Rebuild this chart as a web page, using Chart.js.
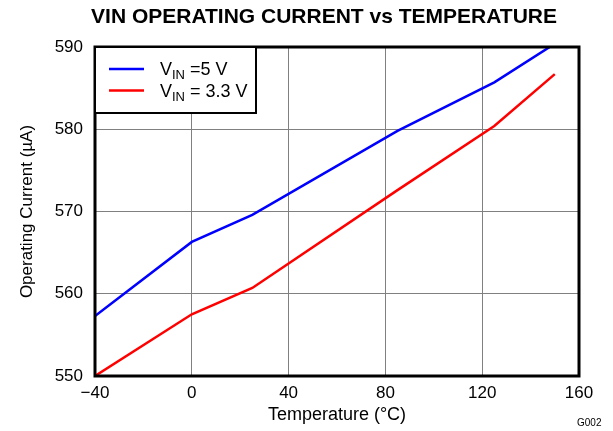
<!DOCTYPE html>
<html>
<head>
<meta charset="utf-8">
<script src="https://cdn.jsdelivr.net/npm/chart.js@4"></script>
<style>
  html, body { margin: 0; padding: 0; background: #fff; }
  #wrap { width: 613px; height: 431px; }
</style>
</head>
<body>
<div id="wrap"><canvas id="myChart" width="613" height="431"></canvas></div>
<script>
const myChart = document.getElementById("myChart");

// temperature points (°C)
const temp5V = [-40, 0, 25, 85, 125, 150];
const current5V = [557.3, 566.3, 569.6, 579.8, 585.7, 590.4];
const temp33V = [-40, 0, 25, 85, 125, 150];
const current33V = [550.0, 557.5, 560.7, 572.6, 580.4, 586.7];

const xTicks = [-40, 0, 40, 80, 120, 160];
const yTicks = [550, 560, 570, 580, 590];

const legendItems = [
  { sub: "IN", text: " =5 V", color: "#0000ff" },
  { sub: "IN", text: " = 3.3 V", color: "#ff0000" },
];

const FONT = "Arial, 'Liberation Sans', sans-serif";

const toPoints = (xs, ys) => xs.map((x, i) => ({ x: x, y: ys[i] }));

// title, legend box, frame and the little G002 label
const extras = {
  id: "extras",
  afterDraw(chart) {
    const ctx = chart.ctx;
    const a = chart.chartArea;
    ctx.save();

    // frame
    ctx.strokeStyle = "#000";
    ctx.lineWidth = 3;
    ctx.strokeRect(a.left, a.top, a.right - a.left, a.bottom - a.top);

    // title
    ctx.fillStyle = "#000";
    ctx.font = "bold 21px " + FONT;
    ctx.textAlign = "center";
    ctx.textBaseline = "middle";
    ctx.fillText("VIN OPERATING CURRENT vs TEMPERATURE", 324, 17);

    // legend
    ctx.fillStyle = "#fff";
    ctx.fillRect(a.left, a.top, 161, 66);
    ctx.strokeStyle = "#000";
    ctx.lineWidth = 2;
    ctx.strokeRect(a.left, a.top, 161, 66);
    legendItems.forEach((it, i) => {
      const y = 69 + i * 21.5;
      ctx.strokeStyle = it.color;
      ctx.lineWidth = 2.5;
      ctx.beginPath();
      ctx.moveTo(109, y);
      ctx.lineTo(144, y);
      ctx.stroke();
      ctx.fillStyle = "#000";
      ctx.textAlign = "left";
      ctx.textBaseline = "alphabetic";
      let x = 160;
      ctx.font = "18px " + FONT;
      ctx.fillText("V", x, y + 6);
      x += ctx.measureText("V").width;
      ctx.font = "13px " + FONT;
      ctx.fillText(it.sub, x, y + 10);
      x += ctx.measureText(it.sub).width;
      ctx.font = "18px " + FONT;
      ctx.fillText(it.text, x, y + 6);
    });

    ctx.font = "10px " + FONT;
    ctx.textAlign = "left";
    ctx.textBaseline = "middle";
    ctx.fillText("G002", 577, 423);
    ctx.restore();
  },
};

new Chart(myChart, {
  type: "line",
  data: {
    datasets: [
      {
        label: "VIN =5 V",
        data: toPoints(temp5V, current5V),
        borderColor: "#0000ff",
        borderWidth: 2.5,
        pointRadius: 0,
        fill: false,
        tension: 0,
      },
      {
        label: "VIN = 3.3 V",
        data: toPoints(temp33V, current33V),
        borderColor: "#ff0000",
        borderWidth: 2.5,
        pointRadius: 0,
        fill: false,
        tension: 0,
      },
    ],
  },
  options: {
    responsive: false,
    animation: false,
    events: [],
    layout: { padding: { left: 0, right: 34, top: 47, bottom: 0 } },
    plugins: {
      legend: { display: false },
      title: { display: false },
      tooltip: { enabled: false },
    },
    scales: {
      x: {
        type: "linear",
        min: -40,
        max: 160,
        afterBuildTicks: (axis) => { axis.ticks = xTicks.map((v) => ({ value: v })); },
        afterFit: (axis) => { axis.height = 55; },
        border: { display: false },
        grid: { color: "#808080", lineWidth: 1, drawTicks: false },
        ticks: {
          color: "#000",
          padding: 7,
          maxRotation: 0,
          font: { family: FONT, size: 17 },
          callback: (v) => String(v).replace("-", "\u2212"),
        },
        title: {
          display: true,
          text: "Temperature (°C)",
          color: "#000",
          padding: { top: 0, bottom: 5 },
          font: { family: FONT, size: 18 },
        },
      },
      y: {
        min: 550,
        max: 590,
        afterBuildTicks: (axis) => { axis.ticks = yTicks.map((v) => ({ value: v })); },
        afterFit: (axis) => { axis.width = 95; },
        border: { display: false },
        grid: { color: "#808080", lineWidth: 1, drawTicks: false },
        ticks: {
          color: "#000",
          padding: 12,
          font: { family: FONT, size: 17 },
        },
        title: {
          display: true,
          text: "Operating Current (µA)",
          color: "#000",
          padding: { top: 17, bottom: 0 },
          font: { family: FONT, size: 17 },
        },
      },
    },
  },
  plugins: [extras],
});
</script>
</body>
</html>
